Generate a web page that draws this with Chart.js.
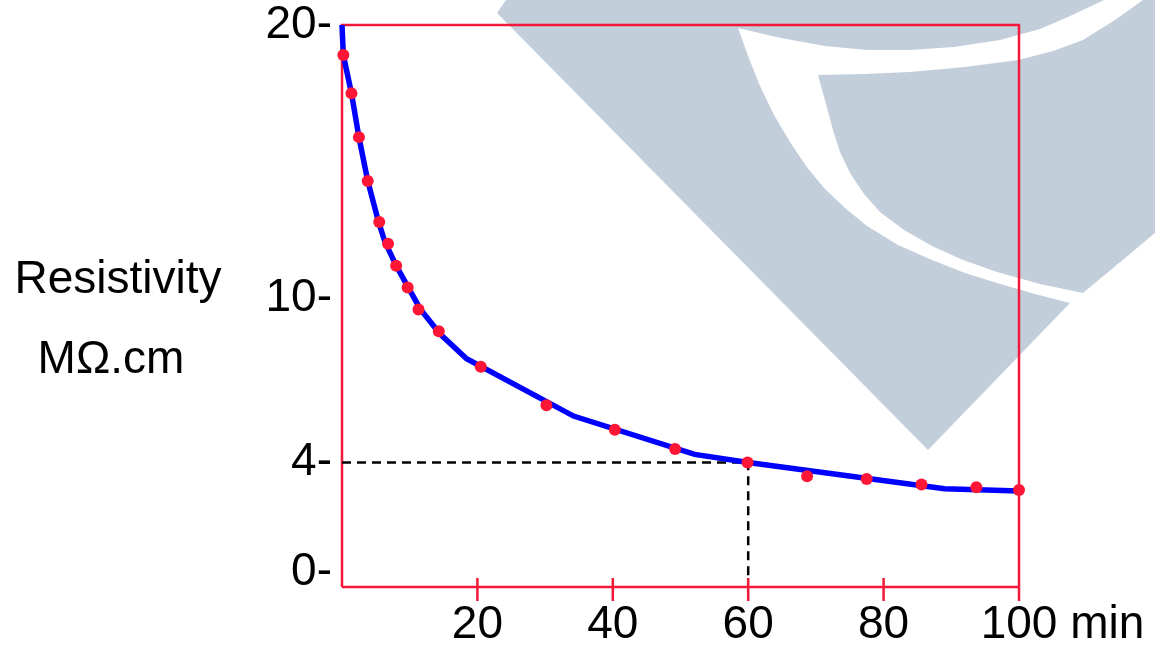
<!DOCTYPE html>
<html lang="en">
<head>
    <meta charset="UTF-8">
    <title>Resistivity vs time</title>
    <style>
        body {
            margin: 0;
            background-color: #ffffff;
        }
        #wrap {
            width: 1155px;
            height: 648px;
        }
    </style>
</head>
<body>
    <div id="wrap">
        <canvas id="chart" width="1155" height="648"></canvas>
    </div>

    <script src="https://cdn.jsdelivr.net/npm/chart.js"></script>
    <script>
        // tick values (minutes / MOhm.cm)
        const xTicks = [20, 40, 60, 80, 100];
        const yTicks = [0, 4, 10, 20];

        // measured points (red dots)
        const dotX = [0.2, 1.4, 2.5, 3.8, 5.5, 6.8, 8.0, 9.7, 11.3, 14.3, 20.5, 30.2, 40.3, 49.2, 59.9, 68.7, 77.5, 85.6, 93.7, 100];
        const dotY = [18.9, 17.5, 15.9, 14.3, 12.8, 12.0, 11.2, 10.4, 9.6, 8.8, 7.5, 6.1, 5.2, 4.5, 4.0, 3.5, 3.4, 3.2, 3.1, 3.0];

        // fitted curve (blue line)
        const curveX = [0, 0.2, 1.4, 2.5, 3.8, 5.4, 6.3, 8.0, 9.8, 11.6, 14.5, 18.4, 34.2, 52.1, 60, 89, 100];
        const curveY = [20, 18.9, 17.5, 15.9, 14.3, 12.8, 12.1, 11.2, 10.4, 9.6, 8.7, 7.8, 5.7, 4.3, 4.0, 3.04, 2.96];

        // reading guide at 60 min -> 4 MOhm.cm
        const guideX = [0, 60, 60];
        const guideY = [4, 4, -0.15];

        const axisRed = '#f2183a';
        const font = { family: 'Arial, "Liberation Sans", sans-serif', size: 46 };

        function pts(xs, ys) {
            return xs.map((x, i) => ({ x: x, y: ys[i] }));
        }

        // light logo watermark behind the plot
        const watermark = {
            id: 'watermark',
            beforeDraw(chart) {
                const c = chart.ctx;
                c.save();
                c.fillStyle = '#ffffff';
                c.fillRect(0, 0, chart.width, chart.height);
                c.fillStyle = '#c3cedb';
                const shapes = [
                    [[506, 0], [1104, 0], [1068, 17], [1040, 29], [1000, 40], [954, 47], [910, 50], [867, 50],
                     [825, 46], [781, 38], [738, 28], [748, 56], [760, 86], [774, 115], [790, 142], [806, 166],
                     [824, 188], [845, 208], [867, 226], [898, 245], [932, 260], [965, 273], [997, 283],
                     [1035, 294], [1070, 303], [928, 450], [497, 13]],
                    [[818, 75], [865, 74], [910, 72], [965, 67], [1018, 60], [1053, 51], [1083, 40], [1115, 20],
                     [1143, 0], [1155, 0], [1155, 233], [1083, 293], [1040, 284], [997, 272], [963, 260],
                     [932, 246], [904, 230], [880, 212], [864, 194], [850, 173], [840, 152], [833, 130],
                     [826, 104]]
                ];
                shapes.forEach(s => {
                    c.beginPath();
                    s.forEach((p, i) => i ? c.lineTo(p[0], p[1]) : c.moveTo(p[0], p[1]));
                    c.closePath();
                    c.fill();
                });
                c.restore();
            }
        };

        // red frame and crossing tick marks
        const frame = {
            id: 'frame',
            beforeDatasetsDraw(chart) {
                const c = chart.ctx;
                const a = chart.chartArea;
                const xs = chart.scales.x;
                c.save();
                c.strokeStyle = axisRed;
                c.lineWidth = 2.5;
                c.beginPath();
                c.moveTo(a.left, a.bottom);
                c.lineTo(a.left, a.top);
                c.lineTo(a.right, a.top);
                c.lineTo(a.right, a.bottom + 14);
                c.moveTo(a.left, a.bottom);
                c.lineTo(a.right, a.bottom);
                xTicks.forEach(v => {
                    const px = xs.getPixelForValue(v);
                    c.moveTo(px, a.bottom - 9);
                    c.lineTo(px, a.bottom + 14);
                });
                c.stroke();
                c.restore();
            },
            afterDraw(chart) {
                const c = chart.ctx;
                const xs = chart.scales.x;
                c.save();
                c.fillStyle = '#000000';
                c.font = font.size + 'px ' + font.family;
                c.textBaseline = 'middle';
                // unit after the last tick label
                const px = xs.getPixelForValue(100) + c.measureText('100').width / 2 + c.measureText(' ').width;
                c.textAlign = 'left';
                c.fillText('min', px, 625);
                // y axis title, two horizontal lines
                c.textAlign = 'center';
                c.fillText('Resistivity', 118, 280);
                c.fillText('M\u03A9.cm', 111, 360);
                c.restore();
            }
        };

        new Chart(document.getElementById('chart'), {
            type: 'scatter',
            data: {
                datasets: [
                    {
                        data: pts(guideX, guideY),
                        showLine: true,
                        borderColor: '#000000',
                        borderWidth: 2.5,
                        borderDash: [9, 6],
                        pointRadius: 0,
                        clip: false,
                        order: 3
                    },
                    {
                        data: pts(curveX, curveY),
                        showLine: true,
                        borderColor: '#0000ff',
                        borderWidth: 5.5,
                        pointRadius: 0,
                        tension: 0,
                        clip: false,
                        order: 2
                    },
                    {
                        data: pts(dotX, dotY),
                        backgroundColor: '#ff1536',
                        borderWidth: 0,
                        pointRadius: 6,
                        clip: false,
                        order: 1
                    }
                ]
            },
            options: {
                responsive: false,
                devicePixelRatio: 1,
                animation: false,
                layout: { padding: { left: 0, right: 136, top: 25, bottom: 0 } },
                plugins: {
                    legend: { display: false },
                    tooltip: { enabled: false }
                },
                scales: {
                    x: {
                        type: 'linear',
                        min: 0,
                        max: 100,
                        grid: { display: false, drawTicks: false },
                        border: { display: false },
                        afterBuildTicks: s => { s.ticks = xTicks.map(v => ({ value: v })); },
                        afterFit: s => { s.height = 61; s.paddingLeft = 0; s.paddingRight = 0; },
                        ticks: { color: '#000000', font: font, padding: 11, maxRotation: 0 }
                    },
                    y: {
                        type: 'linear',
                        min: -0.55,
                        max: 20,
                        grid: { display: false, drawTicks: false },
                        border: { display: false },
                        afterBuildTicks: s => { s.ticks = yTicks.map(v => ({ value: v })); },
                        afterFit: s => { s.width = 342; s.paddingTop = 0; s.paddingBottom = 0; },
                        ticks: {
                            color: '#000000',
                            font: font,
                            padding: 10,
                            callback: v => v + '-'
                        }
                    }
                }
            },
            plugins: [watermark, frame]
        });
    </script>
</body>
</html>
